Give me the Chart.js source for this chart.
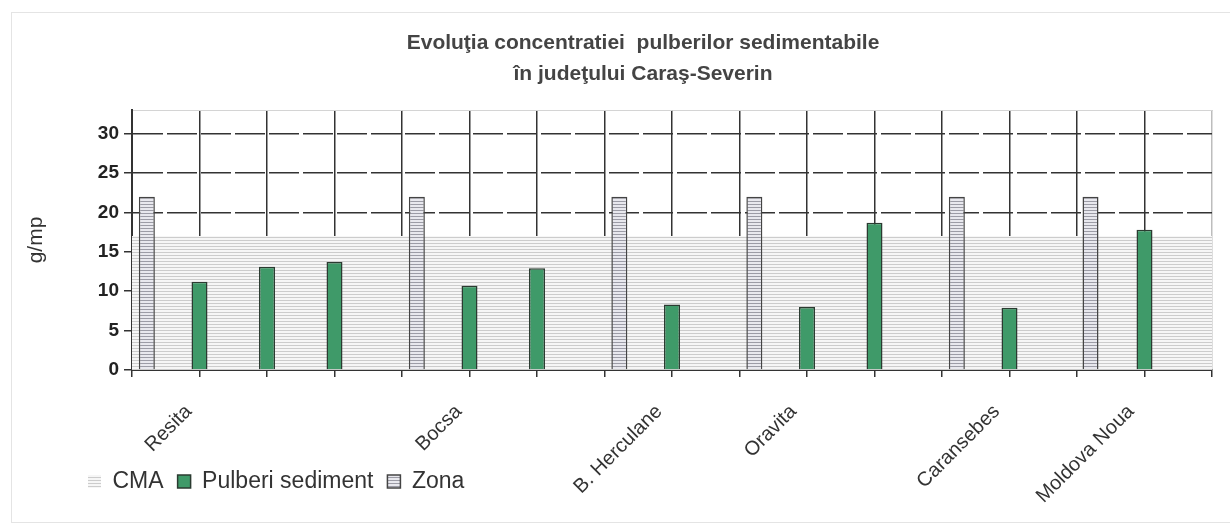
<!DOCTYPE html>
<html>
<head>
<meta charset="utf-8">
<script src="https://cdn.jsdelivr.net/npm/chart.js@4.4.0/dist/chart.umd.min.js"></script>
<style>
html, body { margin: 0; padding: 0; background: #fff; }
#wrap { position: relative; width: 1230px; height: 531px; }
#frame { position: absolute; left: 11px; top: 12px; right: 0; bottom: 8px; border: 1px solid #e4e4e4; border-right: none; }
canvas { position: absolute; left: 0; top: 0; }
</style>
</head>
<body>
<div id="wrap"><div id="frame"></div><canvas id="myChart" width="1230" height="531"></canvas></div>
<script>
// slots on the category axis (one grid cell each)
var slotCount = 16

var siteNames = ['Resita', 'Bocsa', 'B. Herculane', 'Oravita', 'Caransebes', 'Moldova Noua']
var siteLabelAt = [0.84, 4.84, 7.81, 9.8, 12.81, 14.8]

var zonaAt = [0.22, 4.22, 7.22, 9.22, 12.22, 14.2]
var zonaValues = [22, 22, 22, 22, 22, 22]

var pulberiAt = [1, 2, 3, 5, 6, 8, 10, 11, 13, 15]
var pulberiValues = [11.2, 13.1, 13.7, 10.7, 12.9, 8.3, 8.0, 18.7, 7.9, 17.8]

var cmaValue = 17

var yMax = 33
var yStep = 5


/* striped fills */
function stripes(bg, line, period) {
	let c = document.createElement('canvas')
	c.width = 4
	c.height = period
	let g = c.getContext('2d')
	g.fillStyle = bg
	g.fillRect(0, 0, 4, period)
	g.fillStyle = line
	g.fillRect(0, 0, 4, 1)
	return g.createPattern(c, 'repeat')
}

function points(xs, ys) {
	return xs.map((x, i) => ({ x: x, y: ys[i] }))
}

var cmaFill = stripes('#f6f6f6', '#cccccc', 3)
var zonaFill = stripes('#e8e8ee', '#9c9ca6', 3)

Chart.defaults.font.family = "'Liberation Sans', Arial, sans-serif"
Chart.defaults.color = '#333'

var ctx = document.getElementById('myChart').getContext('2d');
var chart = new Chart(ctx, {
	type: 'bar',
	data: {
		datasets: [{
			type: 'line',
			label: 'CMA',
			data: [{ x: 0, y: cmaValue }, { x: slotCount, y: cmaValue }],
			backgroundColor: cmaFill,
			borderColor: 'rgba(0,0,0,0)',
			borderWidth: 0,
			pointRadius: 0,
			fill: 'origin',
			order: 10
		}, {
			label: 'Pulberi sediment',
			data: points(pulberiAt, pulberiValues),
			backgroundColor: '#3f9a69',
			borderColor: '#2b3b31',
			borderWidth: 1.5,
			grouped: false,
			maxBarThickness: 16,
			order: 1
		}, {
			label: 'Zona',
			data: points(zonaAt, zonaValues),
			backgroundColor: zonaFill,
			borderColor: '#444',
			borderWidth: 1.5,
			grouped: false,
			maxBarThickness: 16,
			order: 2
		}]
	},
	options: {
		responsive: false,
		animation: false,
		layout: { padding: { left: 74, right: 18, top: 0, bottom: 28 } },
		plugins: {
			title: {
				display: true,
				text: ['Evoluţia concentratiei  pulberilor sedimentabile', 'în judeţului Caraş-Severin'],
				font: { size: 21, weight: 'bold', lineHeight: 1.5 },
				color: '#444',
				padding: { top: 27, bottom: 20 }
			},
			legend: {
				position: 'bottom',
				align: 'start',
				labels: {
					boxWidth: 13,
					boxHeight: 13,
					padding: 14,
					font: { size: 23 },
					color: '#333',
					sort: (a, b) => a.datasetIndex - b.datasetIndex
				}
			},
			tooltip: { enabled: false }
		},
		scales: {
			x: {
				type: 'linear',
				position: 'bottom',
				min: 0,
				max: slotCount,
				offset: false,
				afterFit: s => { s.height = 86 },
				grid: {
					offset: false,
					color: c => (c.tick && c.tick.value === slotCount) ? '#bdbdbd' : '#333',
					lineWidth: 1.5,
					tickLength: 7,
					tickColor: '#333',
					tickWidth: 1.5
				},
				border: { color: '#333', width: 2 },
				ticks: { stepSize: 1, display: false }
			},
			xl: {
				type: 'linear',
				position: { y: 0 },
				min: 0,
				max: slotCount,
				offset: false,
				grid: { display: false, drawTicks: false },
				border: { display: false },
				afterBuildTicks: s => { s.ticks = siteLabelAt.map(v => ({ value: v })) },
				ticks: {
					autoSkip: false,
					minRotation: 45,
					maxRotation: 45,
					padding: 30,
					font: { size: 20 },
					color: '#333',
					callback: (v, i) => siteNames[i]
				}
			},
			xt: {
				type: 'linear',
				position: 'top',
				display: true,
				grid: { display: false, drawTicks: false },
				ticks: { display: false },
				border: { color: '#d4d4d4', width: 1 }
			},
			y: {
				position: 'left',
				min: 0,
				max: yMax,
				afterFit: s => { s.width = 58 },
				ticks: { stepSize: yStep, includeBounds: false, padding: 5, font: { size: 19, weight: 'bold' }, color: '#222' },
				grid: { color: '#333', lineWidth: 1.5, tickLength: 8, tickColor: '#333', tickWidth: 1.5 },
				border: { color: '#333', width: 2, dash: [30, 4] },
				title: { display: true, text: 'g/mp', font: { size: 21 }, color: '#333', padding: { top: -50, bottom: 0 } }
			}
		}
	}
})
</script>
</body>
</html>
